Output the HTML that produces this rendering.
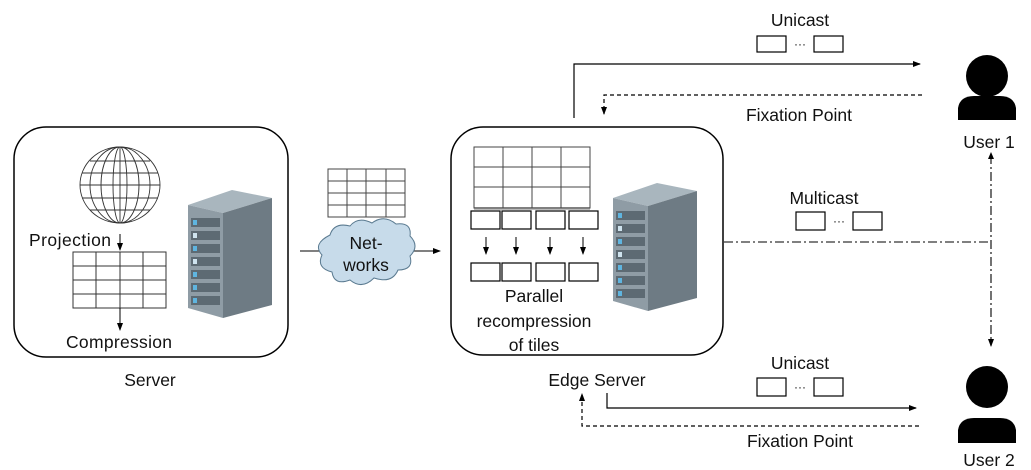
<!DOCTYPE html>
<html><head><meta charset="utf-8"><style>
body{margin:0;background:#fff}
svg{display:block}
text{font-family:"Liberation Sans",sans-serif;font-size:17.5px;fill:#111}
</style></head><body>
<svg width="1031" height="470" viewBox="0 0 1031 470" xmlns="http://www.w3.org/2000/svg">
<defs>
<marker id="a" markerWidth="8" markerHeight="8" refX="7" refY="4" orient="auto" markerUnits="userSpaceOnUse"><path d="M0,1 L8,4 L0,7z" fill="#000"/></marker>
<g id="srv">
<path d="M0,15 L44,0 L84,8 L35,23z" fill="#a9b6be"/>
<path d="M0,15 L35,23 L35,128 L0,118z" fill="#8f9ca5"/>
<path d="M35,23 L84,8 L84,115 L35,128z" fill="#6e7b84"/>
<g fill="#5d6a73">
<rect x="3" y="28" width="29" height="9"/><rect x="3" y="41" width="29" height="9"/><rect x="3" y="54" width="29" height="9"/><rect x="3" y="67" width="29" height="9"/><rect x="3" y="80" width="29" height="9"/><rect x="3" y="93" width="29" height="9"/><rect x="3" y="106" width="29" height="9"/>
</g>
<g fill="#5fb5e0">
<rect x="5" y="30" width="4" height="5"/><rect x="5" y="43" width="4" height="5" fill="#cfe3ee"/><rect x="5" y="56" width="4" height="5"/><rect x="5" y="69" width="4" height="5" fill="#cfe3ee"/><rect x="5" y="82" width="4" height="5"/><rect x="5" y="95" width="4" height="5"/><rect x="5" y="108" width="4" height="5"/>
</g>
</g>
</defs>

<!-- Server box -->
<rect x="14" y="127" width="274" height="230" rx="32" fill="none" stroke="#000" stroke-width="1.5"/>
<g fill="none" stroke="#333" stroke-width="0.9">
<ellipse cx="120" cy="185" rx="40" ry="38"/>
<ellipse cx="120" cy="185" rx="30" ry="38"/><ellipse cx="120" cy="185" rx="19" ry="38"/><ellipse cx="120" cy="185" rx="7" ry="38"/>
<line x1="120" y1="147" x2="120" y2="223"/>
<line x1="82" y1="173" x2="158" y2="173"/><line x1="80" y1="185" x2="160" y2="185"/><line x1="82" y1="198" x2="158" y2="198"/>
<line x1="90" y1="161" x2="150" y2="161"/><line x1="90" y1="210" x2="150" y2="210"/>
</g>
<text x="29" y="246" textLength="82">Projection</text>
<line x1="120" y1="234" x2="120" y2="250" stroke="#000" marker-end="url(#a)"/>
<g fill="none" stroke="#333" stroke-width="1">
<rect x="73" y="252" width="93" height="56"/>
<line x1="96" y1="252" x2="96" y2="308"/><line x1="120" y1="252" x2="120" y2="308"/><line x1="143" y1="252" x2="143" y2="308"/>
<line x1="73" y1="266" x2="166" y2="266"/><line x1="73" y1="280" x2="166" y2="280"/><line x1="73" y1="294" x2="166" y2="294"/>
</g>
<line x1="120" y1="308" x2="120" y2="330" stroke="#000" marker-end="url(#a)"/>
<text x="66" y="348" textLength="106">Compression</text>
<use href="#srv" x="188" y="190"/>
<text x="150" y="386" text-anchor="middle">Server</text>

<!-- network -->
<g fill="none" stroke="#444" stroke-width="1">
<rect x="328" y="169" width="77" height="48"/>
<line x1="347" y1="169" x2="347" y2="217"/><line x1="366" y1="169" x2="366" y2="217"/><line x1="386" y1="169" x2="386" y2="217"/>
<line x1="328" y1="181" x2="405" y2="181"/><line x1="328" y1="193" x2="405" y2="193"/><line x1="328" y1="205" x2="405" y2="205"/>
</g>
<line x1="300" y1="251" x2="440" y2="251" stroke="#000" marker-end="url(#a)"/>
<path d="M330,235 Q334,222 350,226 Q358,216 372,223 Q384,214 396,224 Q412,222 410,236 Q420,246 410,256 Q414,270 398,270 Q392,284 374,278 Q362,290 350,280 Q334,286 332,272 Q316,268 322,255 Q312,244 330,235z" fill="#c7dbea" stroke="#5a7a90" stroke-width="1"/>
<text x="366" y="249" text-anchor="middle">Net-</text>
<text x="366" y="271" text-anchor="middle">works</text>

<!-- Edge box -->
<rect x="451" y="127" width="272" height="228" rx="32" fill="none" stroke="#000" stroke-width="1.5"/>
<rect x="474" y="207" width="116" height="3" fill="#bbb"/>
<g fill="none" stroke="#444" stroke-width="1">
<rect x="474" y="147" width="116" height="61"/>
<line x1="503" y1="147" x2="503" y2="208"/><line x1="532" y1="147" x2="532" y2="208"/><line x1="561" y1="147" x2="561" y2="208"/>
<line x1="474" y1="167" x2="590" y2="167"/><line x1="474" y1="187" x2="590" y2="187"/>
</g>
<g fill="#fff" stroke="#000" stroke-width="1.2">
<rect x="471" y="211" width="29" height="18"/><rect x="502" y="211" width="29" height="18"/><rect x="536" y="211" width="29" height="18"/><rect x="569" y="211" width="29" height="18"/>
<rect x="471" y="263" width="29" height="18"/><rect x="502" y="263" width="29" height="18"/><rect x="536" y="263" width="29" height="18"/><rect x="569" y="263" width="29" height="18"/>
</g>
<g stroke="#000" marker-end="url(#a)">
<line x1="486" y1="237" x2="486" y2="254"/><line x1="516" y1="237" x2="516" y2="254"/><line x1="550" y1="237" x2="550" y2="254"/><line x1="583" y1="237" x2="583" y2="254"/>
</g>
<text x="534" y="302" text-anchor="middle">Parallel</text>
<text x="534" y="327" text-anchor="middle">recompression</text>
<text x="534" y="351" text-anchor="middle">of tiles</text>
<use href="#srv" x="613" y="183"/>
<text x="597" y="386" text-anchor="middle">Edge Server</text>

<!-- top unicast -->
<text x="800" y="26" text-anchor="middle">Unicast</text>
<g fill="#fff" stroke="#000" stroke-width="1.2"><rect x="757" y="36" width="29" height="16"/><rect x="814" y="36" width="29" height="16"/></g>
<text x="800" y="48" text-anchor="middle" style="font-size:12px">···</text>
<polyline points="574,118 574,64 920,64" fill="none" stroke="#000" stroke-width="1.2" marker-end="url(#a)"/>
<polyline points="922,95 604,95 604,114" fill="none" stroke="#000" stroke-width="1.2" stroke-dasharray="4,3" marker-end="url(#a)"/>
<text x="799" y="121" text-anchor="middle">Fixation Point</text>

<!-- user1 -->
<circle cx="987" cy="76" r="21" fill="#000"/>
<path d="M958,120 L958,108 Q960,96 974,96 L1000,96 Q1014,96 1016,108 L1016,120z" fill="#000"/>
<text x="989" y="148" text-anchor="middle">User 1</text>

<!-- multicast -->
<text x="824" y="204" text-anchor="middle">Multicast</text>
<g fill="#fff" stroke="#000" stroke-width="1.2"><rect x="796" y="212" width="29" height="18"/><rect x="853" y="212" width="29" height="18"/></g>
<text x="839" y="225" text-anchor="middle" style="font-size:12px">···</text>
<line x1="724" y1="242" x2="991" y2="242" stroke="#000" stroke-width="1.1" stroke-dasharray="9,3,2,3"/>
<line x1="991" y1="155" x2="991" y2="346" stroke="#000" stroke-width="1.1" stroke-dasharray="9,3,2,3" marker-end="url(#a)"/>
<path d="M991,152 L988,159 L994,159z" fill="#000"/>

<!-- bottom unicast -->
<text x="800" y="369" text-anchor="middle">Unicast</text>
<g fill="#fff" stroke="#000" stroke-width="1.2"><rect x="757" y="378" width="29" height="18"/><rect x="814" y="378" width="29" height="18"/></g>
<text x="800" y="391" text-anchor="middle" style="font-size:12px">···</text>
<polyline points="607,393 607,408 916,408" fill="none" stroke="#000" stroke-width="1.2" marker-end="url(#a)"/>
<polyline points="919,426 582,426 582,394" fill="none" stroke="#000" stroke-width="1.2" stroke-dasharray="4,3" marker-end="url(#a)"/>
<text x="800" y="447" text-anchor="middle">Fixation Point</text>

<!-- user2 -->
<circle cx="987" cy="387" r="21" fill="#000"/>
<path d="M958,443 L958,430 Q960,418 974,418 L1000,418 Q1014,418 1016,430 L1016,443z" fill="#000"/>
<text x="989" y="466" text-anchor="middle">User 2</text>
</svg>
</body></html>
